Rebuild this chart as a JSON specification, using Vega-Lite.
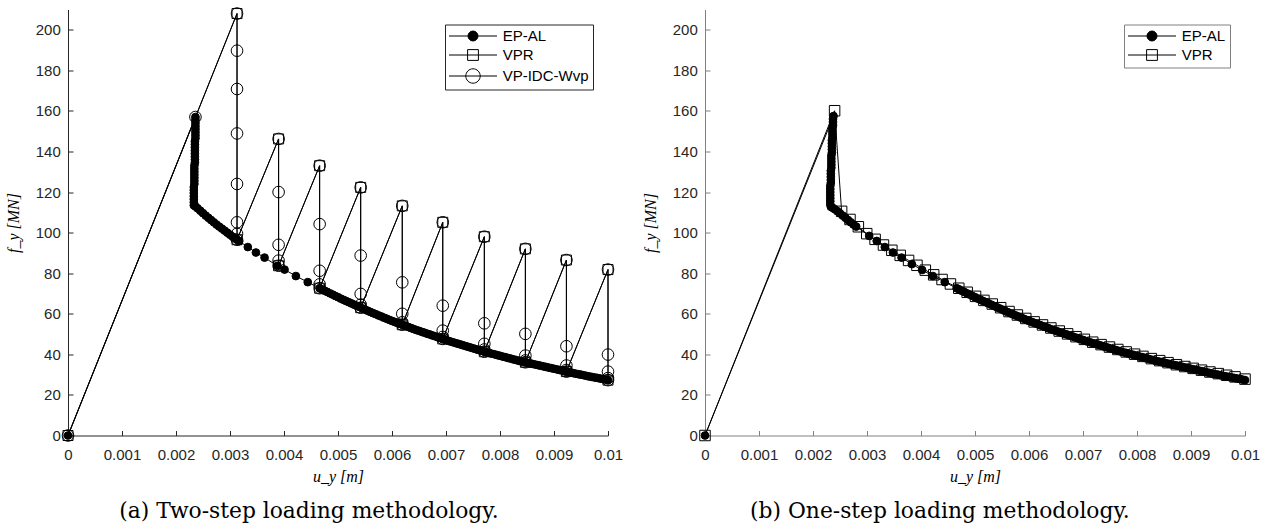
{
"$schema":"https://vega.github.io/schema/vega-lite/v6.json",
"background":"white",
"padding":{"left":5,"top":5.5,"right":3,"bottom":0},
"spacing":19,
"resolve":{"scale":{"shape":"independent","fill":"independent","stroke":"independent"},"legend":{"shape":"independent","fill":"independent","stroke":"independent"}},
"config":{"view":{"stroke":null},
"axis":{"grid":false,"labelFont":"Liberation Sans","labelFontSize":15,"labelColor":"#262626","domainColor":"#262626","tickColor":"#262626","domainWidth":1,"tickWidth":1,"tickSize":-5,"titleFont":"Liberation Serif","titleFontStyle":"italic","titleFontWeight":"normal","titleFontSize":16,"titleColor":"#000"},
"legend":{"title":null,"orient":"top-right","offset":15,"padding":4,"fillColor":"white","labelFont":"Liberation Sans","labelFontSize":15,"labelColor":"#000","rowPadding":3,"symbolOffset":16.5,"labelOffset":22.2,"labelLimit":300,"symbolSize":144,"symbolStrokeWidth":1,"symbolStrokeColor":"black","symbolOpacity":1}},
"datasets":{
"a":[
{"s":"EP-AL","u":0,"f":0},
{"s":"EP-AL","u":0.00236,"f":157},{"s":"EP-AL","u":0.00236,"f":155.5},{"s":"EP-AL","u":0.00236,"f":154},{"s":"EP-AL","u":0.00236,"f":152.5},{"s":"EP-AL","u":0.00236,"f":151},{"s":"EP-AL","u":0.00236,"f":149.5},{"s":"EP-AL","u":0.00236,"f":148},{"s":"EP-AL","u":0.00236,"f":146.5},
{"s":"EP-AL","u":0.00235,"f":145},{"s":"EP-AL","u":0.00235,"f":143.5},{"s":"EP-AL","u":0.00235,"f":142},{"s":"EP-AL","u":0.00235,"f":140.5},{"s":"EP-AL","u":0.00235,"f":139},{"s":"EP-AL","u":0.00235,"f":137.5},{"s":"EP-AL","u":0.00235,"f":136},{"s":"EP-AL","u":0.00235,"f":134.5},
{"s":"EP-AL","u":0.00234,"f":133},{"s":"EP-AL","u":0.00234,"f":131.5},{"s":"EP-AL","u":0.00234,"f":130},{"s":"EP-AL","u":0.00234,"f":128.5},{"s":"EP-AL","u":0.00234,"f":127},{"s":"EP-AL","u":0.00234,"f":125.5},{"s":"EP-AL","u":0.00234,"f":124},
{"s":"EP-AL","u":0.00233,"f":122.5},{"s":"EP-AL","u":0.00233,"f":121},{"s":"EP-AL","u":0.00233,"f":119.5},{"s":"EP-AL","u":0.00233,"f":118},{"s":"EP-AL","u":0.00233,"f":116.5},{"s":"EP-AL","u":0.00233,"f":115},{"s":"EP-AL","u":0.00233,"f":113.5},
{"s":"EP-AL","u":0.00236,"f":112.9},{"s":"EP-AL","u":0.0024,"f":112.0},{"s":"EP-AL","u":0.00245,"f":110.8},{"s":"EP-AL","u":0.0025,"f":109.6},{"s":"EP-AL","u":0.00255,"f":108.4},{"s":"EP-AL","u":0.0026,"f":107.3},{"s":"EP-AL","u":0.00265,"f":106.2},{"s":"EP-AL","u":0.0027,"f":105.1},{"s":"EP-AL","u":0.00275,"f":104.0},{"s":"EP-AL","u":0.0028,"f":103.0},{"s":"EP-AL","u":0.00285,"f":102.0},{"s":"EP-AL","u":0.0029,"f":101.0},{"s":"EP-AL","u":0.00295,"f":100.0},{"s":"EP-AL","u":0.003,"f":99.0},{"s":"EP-AL","u":0.00305,"f":98.0},{"s":"EP-AL","u":0.0031,"f":97.1},{"s":"EP-AL","u":0.00313,"f":96.5},
{"s":"EP-AL","u":0.00317,"f":95.8},{"s":"EP-AL","u":0.00333,"f":92.9},{"s":"EP-AL","u":0.00348,"f":90.2},{"s":"EP-AL","u":0.00364,"f":87.7},{"s":"EP-AL","u":0.00388,"f":83.6},{"s":"EP-AL","u":0.00401,"f":81.8},{"s":"EP-AL","u":0.00422,"f":78.6},{"s":"EP-AL","u":0.00444,"f":75.6},{"s":"EP-AL","u":0.00466,"f":72.6},
{"s":"EP-AL","u":0.0047,"f":72.1},{"s":"EP-AL","u":0.00475,"f":71.4},{"s":"EP-AL","u":0.0048,"f":70.8},{"s":"EP-AL","u":0.00485,"f":70.1},{"s":"EP-AL","u":0.0049,"f":69.5},{"s":"EP-AL","u":0.00495,"f":68.8},{"s":"EP-AL","u":0.005,"f":68.2},{"s":"EP-AL","u":0.00505,"f":67.5},{"s":"EP-AL","u":0.0051,"f":66.9},{"s":"EP-AL","u":0.00515,"f":66.3},{"s":"EP-AL","u":0.0052,"f":65.7},{"s":"EP-AL","u":0.00525,"f":65.1},{"s":"EP-AL","u":0.0053,"f":64.5},{"s":"EP-AL","u":0.00535,"f":63.9},{"s":"EP-AL","u":0.0054,"f":63.3},{"s":"EP-AL","u":0.00545,"f":62.7},{"s":"EP-AL","u":0.0055,"f":62.1},{"s":"EP-AL","u":0.00555,"f":61.5},{"s":"EP-AL","u":0.0056,"f":60.9},{"s":"EP-AL","u":0.00565,"f":60.3},{"s":"EP-AL","u":0.0057,"f":59.8},{"s":"EP-AL","u":0.00575,"f":59.2},{"s":"EP-AL","u":0.0058,"f":58.7},{"s":"EP-AL","u":0.00585,"f":58.1},{"s":"EP-AL","u":0.0059,"f":57.6},{"s":"EP-AL","u":0.00595,"f":57.0},{"s":"EP-AL","u":0.006,"f":56.5},{"s":"EP-AL","u":0.00605,"f":56.0},{"s":"EP-AL","u":0.0061,"f":55.5},{"s":"EP-AL","u":0.00615,"f":55.0},{"s":"EP-AL","u":0.0062,"f":54.5},{"s":"EP-AL","u":0.00625,"f":54.0},{"s":"EP-AL","u":0.0063,"f":53.5},{"s":"EP-AL","u":0.00635,"f":53.0},{"s":"EP-AL","u":0.0064,"f":52.5},{"s":"EP-AL","u":0.00645,"f":52.0},{"s":"EP-AL","u":0.0065,"f":51.6},{"s":"EP-AL","u":0.00655,"f":51.1},{"s":"EP-AL","u":0.0066,"f":50.7},{"s":"EP-AL","u":0.00665,"f":50.2},{"s":"EP-AL","u":0.0067,"f":49.8},{"s":"EP-AL","u":0.00675,"f":49.3},{"s":"EP-AL","u":0.0068,"f":48.9},{"s":"EP-AL","u":0.00685,"f":48.4},{"s":"EP-AL","u":0.0069,"f":48.0},{"s":"EP-AL","u":0.00695,"f":47.5},{"s":"EP-AL","u":0.007,"f":47.1},{"s":"EP-AL","u":0.00705,"f":46.6},{"s":"EP-AL","u":0.0071,"f":46.2},{"s":"EP-AL","u":0.00715,"f":45.8},{"s":"EP-AL","u":0.0072,"f":45.4},{"s":"EP-AL","u":0.00725,"f":45.0},{"s":"EP-AL","u":0.0073,"f":44.6},{"s":"EP-AL","u":0.00735,"f":44.2},{"s":"EP-AL","u":0.0074,"f":43.8},{"s":"EP-AL","u":0.00745,"f":43.4},{"s":"EP-AL","u":0.0075,"f":43.0},{"s":"EP-AL","u":0.00755,"f":42.6},{"s":"EP-AL","u":0.0076,"f":42.2},{"s":"EP-AL","u":0.00765,"f":41.8},{"s":"EP-AL","u":0.0077,"f":41.4},{"s":"EP-AL","u":0.00775,"f":41.0},{"s":"EP-AL","u":0.0078,"f":40.7},{"s":"EP-AL","u":0.00785,"f":40.3},{"s":"EP-AL","u":0.0079,"f":40.0},{"s":"EP-AL","u":0.00795,"f":39.6},{"s":"EP-AL","u":0.008,"f":39.3},{"s":"EP-AL","u":0.00805,"f":38.9},{"s":"EP-AL","u":0.0081,"f":38.6},{"s":"EP-AL","u":0.00815,"f":38.2},{"s":"EP-AL","u":0.0082,"f":37.9},{"s":"EP-AL","u":0.00825,"f":37.5},{"s":"EP-AL","u":0.0083,"f":37.2},{"s":"EP-AL","u":0.00835,"f":36.8},{"s":"EP-AL","u":0.0084,"f":36.5},{"s":"EP-AL","u":0.00845,"f":36.2},{"s":"EP-AL","u":0.0085,"f":35.9},{"s":"EP-AL","u":0.00855,"f":35.6},{"s":"EP-AL","u":0.0086,"f":35.3},{"s":"EP-AL","u":0.00865,"f":35.0},{"s":"EP-AL","u":0.0087,"f":34.7},{"s":"EP-AL","u":0.00875,"f":34.4},{"s":"EP-AL","u":0.0088,"f":34.1},{"s":"EP-AL","u":0.00885,"f":33.8},{"s":"EP-AL","u":0.0089,"f":33.5},{"s":"EP-AL","u":0.00895,"f":33.2},{"s":"EP-AL","u":0.009,"f":32.9},{"s":"EP-AL","u":0.00905,"f":32.6},{"s":"EP-AL","u":0.0091,"f":32.3},{"s":"EP-AL","u":0.00915,"f":32.0},{"s":"EP-AL","u":0.0092,"f":31.7},{"s":"EP-AL","u":0.00925,"f":31.4},{"s":"EP-AL","u":0.0093,"f":31.1},{"s":"EP-AL","u":0.00935,"f":30.8},{"s":"EP-AL","u":0.0094,"f":30.5},{"s":"EP-AL","u":0.00945,"f":30.2},{"s":"EP-AL","u":0.0095,"f":30.0},{"s":"EP-AL","u":0.00955,"f":29.7},{"s":"EP-AL","u":0.0096,"f":29.4},{"s":"EP-AL","u":0.00965,"f":29.1},{"s":"EP-AL","u":0.0097,"f":28.9},{"s":"EP-AL","u":0.00975,"f":28.6},{"s":"EP-AL","u":0.0098,"f":28.4},{"s":"EP-AL","u":0.00985,"f":28.1},{"s":"EP-AL","u":0.0099,"f":27.9},{"s":"EP-AL","u":0.00995,"f":27.6},{"s":"EP-AL","u":0.01,"f":27.3},
{"s":"VPR","u":0,"f":0},{"s":"VPR","u":0.00313,"f":208},{"s":"VPR","u":0.00313,"f":96.5},{"s":"VPR","u":0.0039,"f":146.2},{"s":"VPR","u":0.0039,"f":83.7},{"s":"VPR","u":0.00466,"f":133},{"s":"VPR","u":0.00466,"f":72.6},{"s":"VPR","u":0.00542,"f":122.3},{"s":"VPR","u":0.00542,"f":63},{"s":"VPR","u":0.00619,"f":113.2},{"s":"VPR","u":0.00619,"f":54.6},{"s":"VPR","u":0.00694,"f":105.1},{"s":"VPR","u":0.00694,"f":47.6},{"s":"VPR","u":0.00771,"f":98},{"s":"VPR","u":0.00771,"f":41.3},{"s":"VPR","u":0.00847,"f":92},{"s":"VPR","u":0.00847,"f":36.1},{"s":"VPR","u":0.00923,"f":86.5},{"s":"VPR","u":0.00923,"f":31.5},{"s":"VPR","u":0.01,"f":81.8},{"s":"VPR","u":0.01,"f":27.3},
{"s":"VP-IDC-Wvp","u":0,"f":0},{"s":"VP-IDC-Wvp","u":0.00236,"f":157},{"s":"VP-IDC-Wvp","u":0.00313,"f":208},{"s":"VP-IDC-Wvp","u":0.00313,"f":189.7},{"s":"VP-IDC-Wvp","u":0.00313,"f":170.8},{"s":"VP-IDC-Wvp","u":0.00313,"f":148.9},{"s":"VP-IDC-Wvp","u":0.00313,"f":124},{"s":"VP-IDC-Wvp","u":0.00313,"f":105.1},{"s":"VP-IDC-Wvp","u":0.00313,"f":99.4},{"s":"VP-IDC-Wvp","u":0.00313,"f":96.5},
{"s":"VP-IDC-Wvp","u":0.0039,"f":146.2},{"s":"VP-IDC-Wvp","u":0.0039,"f":120},{"s":"VP-IDC-Wvp","u":0.0039,"f":94},{"s":"VP-IDC-Wvp","u":0.0039,"f":86.2},{"s":"VP-IDC-Wvp","u":0.0039,"f":83.7},
{"s":"VP-IDC-Wvp","u":0.00466,"f":133},{"s":"VP-IDC-Wvp","u":0.00466,"f":104.2},{"s":"VP-IDC-Wvp","u":0.00466,"f":81.2},{"s":"VP-IDC-Wvp","u":0.00466,"f":74.5},{"s":"VP-IDC-Wvp","u":0.00466,"f":72.6},
{"s":"VP-IDC-Wvp","u":0.00542,"f":122.3},{"s":"VP-IDC-Wvp","u":0.00542,"f":88.7},{"s":"VP-IDC-Wvp","u":0.00542,"f":69.8},{"s":"VP-IDC-Wvp","u":0.00542,"f":64.5},{"s":"VP-IDC-Wvp","u":0.00542,"f":63},
{"s":"VP-IDC-Wvp","u":0.00619,"f":113.2},{"s":"VP-IDC-Wvp","u":0.00619,"f":75.5},{"s":"VP-IDC-Wvp","u":0.00619,"f":60},{"s":"VP-IDC-Wvp","u":0.00619,"f":55.8},{"s":"VP-IDC-Wvp","u":0.00619,"f":54.6},
{"s":"VP-IDC-Wvp","u":0.00694,"f":105.1},{"s":"VP-IDC-Wvp","u":0.00694,"f":64},{"s":"VP-IDC-Wvp","u":0.00694,"f":51.7},{"s":"VP-IDC-Wvp","u":0.00694,"f":48.6},{"s":"VP-IDC-Wvp","u":0.00694,"f":47.6},
{"s":"VP-IDC-Wvp","u":0.00771,"f":98},{"s":"VP-IDC-Wvp","u":0.00771,"f":55.3},{"s":"VP-IDC-Wvp","u":0.00771,"f":45.2},{"s":"VP-IDC-Wvp","u":0.00771,"f":42.4},{"s":"VP-IDC-Wvp","u":0.00771,"f":41.3},
{"s":"VP-IDC-Wvp","u":0.00847,"f":92},{"s":"VP-IDC-Wvp","u":0.00847,"f":50.1},{"s":"VP-IDC-Wvp","u":0.00847,"f":39.4},{"s":"VP-IDC-Wvp","u":0.00847,"f":37},{"s":"VP-IDC-Wvp","u":0.00847,"f":36.1},
{"s":"VP-IDC-Wvp","u":0.00923,"f":86.5},{"s":"VP-IDC-Wvp","u":0.00923,"f":44},{"s":"VP-IDC-Wvp","u":0.00923,"f":34.5},{"s":"VP-IDC-Wvp","u":0.00923,"f":32.3},{"s":"VP-IDC-Wvp","u":0.00923,"f":31.5},
{"s":"VP-IDC-Wvp","u":0.01,"f":81.8},{"s":"VP-IDC-Wvp","u":0.01,"f":39.9},{"s":"VP-IDC-Wvp","u":0.01,"f":31.5},{"s":"VP-IDC-Wvp","u":0.01,"f":28.3},{"s":"VP-IDC-Wvp","u":0.01,"f":27.3}
],
"b":[
{"s":"EP-AL","u":0,"f":0},
{"s":"EP-AL","u":0.00238,"f":157.5},{"s":"EP-AL","u":0.00237,"f":156},{"s":"EP-AL","u":0.00237,"f":154.5},{"s":"EP-AL","u":0.00237,"f":153},{"s":"EP-AL","u":0.00236,"f":151.5},{"s":"EP-AL","u":0.00236,"f":150},{"s":"EP-AL","u":0.00236,"f":148.5},{"s":"EP-AL","u":0.00236,"f":147},
{"s":"EP-AL","u":0.00235,"f":145.5},{"s":"EP-AL","u":0.00235,"f":144},{"s":"EP-AL","u":0.00235,"f":142.5},{"s":"EP-AL","u":0.00235,"f":141},{"s":"EP-AL","u":0.00235,"f":139.5},{"s":"EP-AL","u":0.00234,"f":138},{"s":"EP-AL","u":0.00234,"f":136.5},{"s":"EP-AL","u":0.00234,"f":135},
{"s":"EP-AL","u":0.00234,"f":133.5},{"s":"EP-AL","u":0.00234,"f":132},{"s":"EP-AL","u":0.00233,"f":130.5},{"s":"EP-AL","u":0.00233,"f":129},{"s":"EP-AL","u":0.00233,"f":127.5},{"s":"EP-AL","u":0.00233,"f":126},{"s":"EP-AL","u":0.00233,"f":124.5},
{"s":"EP-AL","u":0.00232,"f":123},{"s":"EP-AL","u":0.00232,"f":121.5},{"s":"EP-AL","u":0.00232,"f":120},{"s":"EP-AL","u":0.00232,"f":118.5},{"s":"EP-AL","u":0.00232,"f":117},{"s":"EP-AL","u":0.00232,"f":115.5},{"s":"EP-AL","u":0.00232,"f":114},{"s":"EP-AL","u":0.00233,"f":112.8},
{"s":"EP-AL","u":0.00236,"f":112.3},{"s":"EP-AL","u":0.0024,"f":111.6},{"s":"EP-AL","u":0.00245,"f":110.6},{"s":"EP-AL","u":0.0025,"f":109.5},{"s":"EP-AL","u":0.00255,"f":108.4},{"s":"EP-AL","u":0.0026,"f":107.3},{"s":"EP-AL","u":0.00265,"f":106.2},{"s":"EP-AL","u":0.0027,"f":105.1},{"s":"EP-AL","u":0.00275,"f":104.0},{"s":"EP-AL","u":0.0028,"f":103.0},
{"s":"EP-AL","u":0.00304,"f":98.4},{"s":"EP-AL","u":0.00318,"f":95.9},{"s":"EP-AL","u":0.00333,"f":92.9},{"s":"EP-AL","u":0.00348,"f":90.2},{"s":"EP-AL","u":0.00364,"f":87.7},{"s":"EP-AL","u":0.00383,"f":84.5},{"s":"EP-AL","u":0.00402,"f":81.6},{"s":"EP-AL","u":0.00422,"f":78.6},{"s":"EP-AL","u":0.00444,"f":75.6},{"s":"EP-AL","u":0.00466,"f":72.6},
{"s":"EP-AL","u":0.0047,"f":72.1},{"s":"EP-AL","u":0.00475,"f":71.4},{"s":"EP-AL","u":0.0048,"f":70.8},{"s":"EP-AL","u":0.00485,"f":70.1},{"s":"EP-AL","u":0.0049,"f":69.5},{"s":"EP-AL","u":0.00495,"f":68.8},{"s":"EP-AL","u":0.005,"f":68.2},{"s":"EP-AL","u":0.00505,"f":67.5},{"s":"EP-AL","u":0.0051,"f":66.9},{"s":"EP-AL","u":0.00515,"f":66.3},{"s":"EP-AL","u":0.0052,"f":65.7},{"s":"EP-AL","u":0.00525,"f":65.1},{"s":"EP-AL","u":0.0053,"f":64.5},{"s":"EP-AL","u":0.00535,"f":63.9},{"s":"EP-AL","u":0.0054,"f":63.3},{"s":"EP-AL","u":0.00545,"f":62.7},{"s":"EP-AL","u":0.0055,"f":62.1},{"s":"EP-AL","u":0.00555,"f":61.5},{"s":"EP-AL","u":0.0056,"f":60.9},{"s":"EP-AL","u":0.00565,"f":60.3},{"s":"EP-AL","u":0.0057,"f":59.8},{"s":"EP-AL","u":0.00575,"f":59.2},{"s":"EP-AL","u":0.0058,"f":58.7},{"s":"EP-AL","u":0.00585,"f":58.1},{"s":"EP-AL","u":0.0059,"f":57.6},{"s":"EP-AL","u":0.00595,"f":57.0},{"s":"EP-AL","u":0.006,"f":56.5},{"s":"EP-AL","u":0.00605,"f":56.0},{"s":"EP-AL","u":0.0061,"f":55.5},{"s":"EP-AL","u":0.00615,"f":55.0},{"s":"EP-AL","u":0.0062,"f":54.5},{"s":"EP-AL","u":0.00625,"f":54.0},{"s":"EP-AL","u":0.0063,"f":53.5},{"s":"EP-AL","u":0.00635,"f":53.0},{"s":"EP-AL","u":0.0064,"f":52.5},{"s":"EP-AL","u":0.00645,"f":52.0},{"s":"EP-AL","u":0.0065,"f":51.6},{"s":"EP-AL","u":0.00655,"f":51.1},{"s":"EP-AL","u":0.0066,"f":50.7},{"s":"EP-AL","u":0.00665,"f":50.2},{"s":"EP-AL","u":0.0067,"f":49.8},{"s":"EP-AL","u":0.00675,"f":49.3},{"s":"EP-AL","u":0.0068,"f":48.9},{"s":"EP-AL","u":0.00685,"f":48.4},{"s":"EP-AL","u":0.0069,"f":48.0},{"s":"EP-AL","u":0.00695,"f":47.5},{"s":"EP-AL","u":0.007,"f":47.1},{"s":"EP-AL","u":0.00705,"f":46.6},{"s":"EP-AL","u":0.0071,"f":46.2},{"s":"EP-AL","u":0.00715,"f":45.8},{"s":"EP-AL","u":0.0072,"f":45.4},{"s":"EP-AL","u":0.00725,"f":45.0},{"s":"EP-AL","u":0.0073,"f":44.6},{"s":"EP-AL","u":0.00735,"f":44.2},{"s":"EP-AL","u":0.0074,"f":43.8},{"s":"EP-AL","u":0.00745,"f":43.4},{"s":"EP-AL","u":0.0075,"f":43.0},{"s":"EP-AL","u":0.00755,"f":42.6},{"s":"EP-AL","u":0.0076,"f":42.2},{"s":"EP-AL","u":0.00765,"f":41.8},{"s":"EP-AL","u":0.0077,"f":41.4},{"s":"EP-AL","u":0.00775,"f":41.0},{"s":"EP-AL","u":0.0078,"f":40.7},{"s":"EP-AL","u":0.00785,"f":40.3},{"s":"EP-AL","u":0.0079,"f":40.0},{"s":"EP-AL","u":0.00795,"f":39.6},{"s":"EP-AL","u":0.008,"f":39.3},{"s":"EP-AL","u":0.00805,"f":38.9},{"s":"EP-AL","u":0.0081,"f":38.6},{"s":"EP-AL","u":0.00815,"f":38.2},{"s":"EP-AL","u":0.0082,"f":37.9},{"s":"EP-AL","u":0.00825,"f":37.5},{"s":"EP-AL","u":0.0083,"f":37.2},{"s":"EP-AL","u":0.00835,"f":36.8},{"s":"EP-AL","u":0.0084,"f":36.5},{"s":"EP-AL","u":0.00845,"f":36.2},{"s":"EP-AL","u":0.0085,"f":35.9},{"s":"EP-AL","u":0.00855,"f":35.6},{"s":"EP-AL","u":0.0086,"f":35.3},{"s":"EP-AL","u":0.00865,"f":35.0},{"s":"EP-AL","u":0.0087,"f":34.7},{"s":"EP-AL","u":0.00875,"f":34.4},{"s":"EP-AL","u":0.0088,"f":34.1},{"s":"EP-AL","u":0.00885,"f":33.8},{"s":"EP-AL","u":0.0089,"f":33.5},{"s":"EP-AL","u":0.00895,"f":33.2},{"s":"EP-AL","u":0.009,"f":32.9},{"s":"EP-AL","u":0.00905,"f":32.6},{"s":"EP-AL","u":0.0091,"f":32.3},{"s":"EP-AL","u":0.00915,"f":32.0},{"s":"EP-AL","u":0.0092,"f":31.7},{"s":"EP-AL","u":0.00925,"f":31.4},{"s":"EP-AL","u":0.0093,"f":31.1},{"s":"EP-AL","u":0.00935,"f":30.8},{"s":"EP-AL","u":0.0094,"f":30.5},{"s":"EP-AL","u":0.00945,"f":30.2},{"s":"EP-AL","u":0.0095,"f":30.0},{"s":"EP-AL","u":0.00955,"f":29.7},{"s":"EP-AL","u":0.0096,"f":29.4},{"s":"EP-AL","u":0.00965,"f":29.1},{"s":"EP-AL","u":0.0097,"f":28.9},{"s":"EP-AL","u":0.00975,"f":28.6},{"s":"EP-AL","u":0.0098,"f":28.4},{"s":"EP-AL","u":0.00985,"f":28.1},{"s":"EP-AL","u":0.0099,"f":27.9},{"s":"EP-AL","u":0.00995,"f":27.6},{"s":"EP-AL","u":0.01,"f":27.3},
{"s":"VPR","u":0,"f":0},{"s":"VPR","u":0.0024,"f":160.1},{"s":"VPR","u":0.00253,"f":110.5},{"s":"VPR","u":0.002685,"f":106.5},{"s":"VPR","u":0.00284,"f":102.9},{"s":"VPR","u":0.002995,"f":99.5},{"s":"VPR","u":0.00315,"f":96.7},{"s":"VPR","u":0.003305,"f":93.9},{"s":"VPR","u":0.00346,"f":91.3},{"s":"VPR","u":0.003615,"f":88.8},{"s":"VPR","u":0.00377,"f":86.3},{"s":"VPR","u":0.003925,"f":83.9},{"s":"VPR","u":0.00408,"f":81.5},{"s":"VPR","u":0.004235,"f":79.2},{"s":"VPR","u":0.00439,"f":76.9},{"s":"VPR","u":0.004545,"f":74.7},{"s":"VPR","u":0.0047,"f":72.6},{"s":"VPR","u":0.004855,"f":70.6},{"s":"VPR","u":0.00501,"f":68.6},{"s":"VPR","u":0.005165,"f":66.6},{"s":"VPR","u":0.00532,"f":64.8},{"s":"VPR","u":0.005475,"f":63.0},{"s":"VPR","u":0.00563,"f":61.1},{"s":"VPR","u":0.005785,"f":59.4},{"s":"VPR","u":0.00594,"f":57.7},{"s":"VPR","u":0.006095,"f":56.0},{"s":"VPR","u":0.00625,"f":54.5},{"s":"VPR","u":0.006405,"f":53.0},{"s":"VPR","u":0.00656,"f":51.5},{"s":"VPR","u":0.006715,"f":50.1},{"s":"VPR","u":0.00687,"f":48.7},{"s":"VPR","u":0.007025,"f":47.4},{"s":"VPR","u":0.00718,"f":46.0},{"s":"VPR","u":0.007335,"f":44.8},{"s":"VPR","u":0.00749,"f":43.6},{"s":"VPR","u":0.007645,"f":42.4},{"s":"VPR","u":0.0078,"f":41.2},{"s":"VPR","u":0.007955,"f":40.1},{"s":"VPR","u":0.00811,"f":39.0},{"s":"VPR","u":0.008265,"f":37.9},{"s":"VPR","u":0.00842,"f":36.9},{"s":"VPR","u":0.008575,"f":35.9},{"s":"VPR","u":0.00873,"f":34.9},{"s":"VPR","u":0.008885,"f":34.0},{"s":"VPR","u":0.00904,"f":33.1},{"s":"VPR","u":0.009195,"f":32.2},{"s":"VPR","u":0.00935,"f":31.3},{"s":"VPR","u":0.009505,"f":30.5},{"s":"VPR","u":0.00966,"f":29.7},{"s":"VPR","u":0.009815,"f":28.9},{"s":"VPR","u":0.01,"f":27.8}
]},
"hconcat":[
{"width":540,"height":426,"data":{"name":"a"},
"title":{"text":"(a) Two-step loading methodology.","orient":"bottom","anchor":"middle","frame":"bounds","font":"DejaVu Serif","fontSize":21.8,"fontWeight":"normal","color":"#000","offset":16,"dx":-5},
"resolve":{"scale":{"shape":"independent","fill":"independent","stroke":"independent"},"legend":{"shape":"independent","fill":"independent","stroke":"independent"}},
"encoding":{
"x":{"field":"u","type":"quantitative","scale":{"domain":[0,0.01],"nice":false,"zero":false},"axis":{"title":"u_y [m]","values":[0,0.001,0.002,0.003,0.004,0.005,0.006,0.007,0.008,0.009,0.01],"format":"~g","labelPadding":17,"titlePadding":6,"labelFlush":false,"labelOverlap":false}},
"y":{"field":"f","type":"quantitative","scale":{"domain":[0,210],"nice":false},"axis":{"title":"f_y [MN]","values":[0,20,40,60,80,100,120,140,160,180,200],"labelPadding":12.7,"titlePadding":14,"labelFlush":false,"labelOverlap":false}}},
"layer":[
{"mark":{"type":"line","color":"black","strokeWidth":1},"encoding":{"detail":{"field":"s"},"order":{"value":null}}},
{"mark":{"type":"point","opacity":1,"stroke":"black","strokeWidth":1},
"encoding":{
"shape":{"field":"s","type":"nominal","scale":{"domain":["EP-AL","VPR","VP-IDC-Wvp"],"range":["circle","square","circle"]},"legend":null},
"fill":{"condition":{"test":"datum.s === 'EP-AL'","value":"black"},"value":"transparent"},
"size":{"condition":[{"test":"datum.s === 'EP-AL'","value":60},{"test":"datum.s === 'VPR'","value":100}],"value":135}}},
{"transform":[{"filter":"false"}],
"mark":{"type":"point","opacity":1,"strokeWidth":1},
"encoding":{
"shape":{"field":"s","type":"nominal","scale":{"domain":["EP-AL","VPR","VP-IDC-Wvp"],"range":["M-4,0H4M-0.83,0A0.83,0.83,0,1,1,0.83,0A0.83,0.83,0,1,1,-0.83,0Z","M-4,0H4M-0.9,-0.9H0.9V0.9H-0.9Z","M-4,0H4M-1.2,0A1.2,1.2,0,1,1,1.2,0A1.2,1.2,0,1,1,-1.2,0Z"]},"legend":{"strokeColor":"#262626"}},
"fill":{"field":"s","type":"nominal","scale":{"domain":["EP-AL","VPR","VP-IDC-Wvp"],"range":["black","transparent","transparent"]}},
"stroke":{"field":"s","type":"nominal","scale":{"domain":["EP-AL","VPR","VP-IDC-Wvp"],"range":["black","black","black"]}}}}
]},
{"width":540,"height":426,"data":{"name":"b"},
"title":{"text":"(b) One-step loading methodology.","orient":"bottom","anchor":"middle","frame":"bounds","font":"DejaVu Serif","fontSize":21.8,"fontWeight":"normal","color":"#000","offset":16,"dx":-11},
"resolve":{"scale":{"shape":"independent","fill":"independent","stroke":"independent"},"legend":{"shape":"independent","fill":"independent","stroke":"independent"}},
"encoding":{
"x":{"field":"u","type":"quantitative","scale":{"domain":[0,0.01],"nice":false,"zero":false},"axis":{"title":"u_y [m]","values":[0,0.001,0.002,0.003,0.004,0.005,0.006,0.007,0.008,0.009,0.01],"format":"~g","labelPadding":17,"titlePadding":6,"labelFlush":false,"labelOverlap":false,"domainColor":"#808080","tickColor":"#808080"}},
"y":{"field":"f","type":"quantitative","scale":{"domain":[0,210],"nice":false},"axis":{"title":"f_y [MN]","values":[0,20,40,60,80,100,120,140,160,180,200],"labelPadding":12.7,"titlePadding":14,"labelFlush":false,"labelOverlap":false,"domainColor":"#808080","tickColor":"#808080"}}},
"layer":[
{"mark":{"type":"line","color":"black","strokeWidth":1},"encoding":{"detail":{"field":"s"},"order":{"value":null}}},
{"mark":{"type":"point","opacity":1,"stroke":"black","strokeWidth":1},
"encoding":{
"shape":{"field":"s","type":"nominal","scale":{"domain":["EP-AL","VPR"],"range":["circle","square"]},"legend":null},
"fill":{"condition":{"test":"datum.s === 'EP-AL'","value":"black"},"value":"transparent"},
"size":{"condition":{"test":"datum.s === 'EP-AL'","value":60},"value":110}}},
{"transform":[{"filter":"false"}],
"mark":{"type":"point","opacity":1,"strokeWidth":1},
"encoding":{
"shape":{"field":"s","type":"nominal","scale":{"domain":["EP-AL","VPR"],"range":["M-4,0H4M-0.83,0A0.83,0.83,0,1,1,0.83,0A0.83,0.83,0,1,1,-0.83,0Z","M-4,0H4M-0.9,-0.9H0.9V0.9H-0.9Z"]},"legend":{"strokeColor":"#808080"}},
"fill":{"field":"s","type":"nominal","scale":{"domain":["EP-AL","VPR"],"range":["black","transparent"]}},
"stroke":{"field":"s","type":"nominal","scale":{"domain":["EP-AL","VPR"],"range":["black","black"]}}}}
]}
]
}
